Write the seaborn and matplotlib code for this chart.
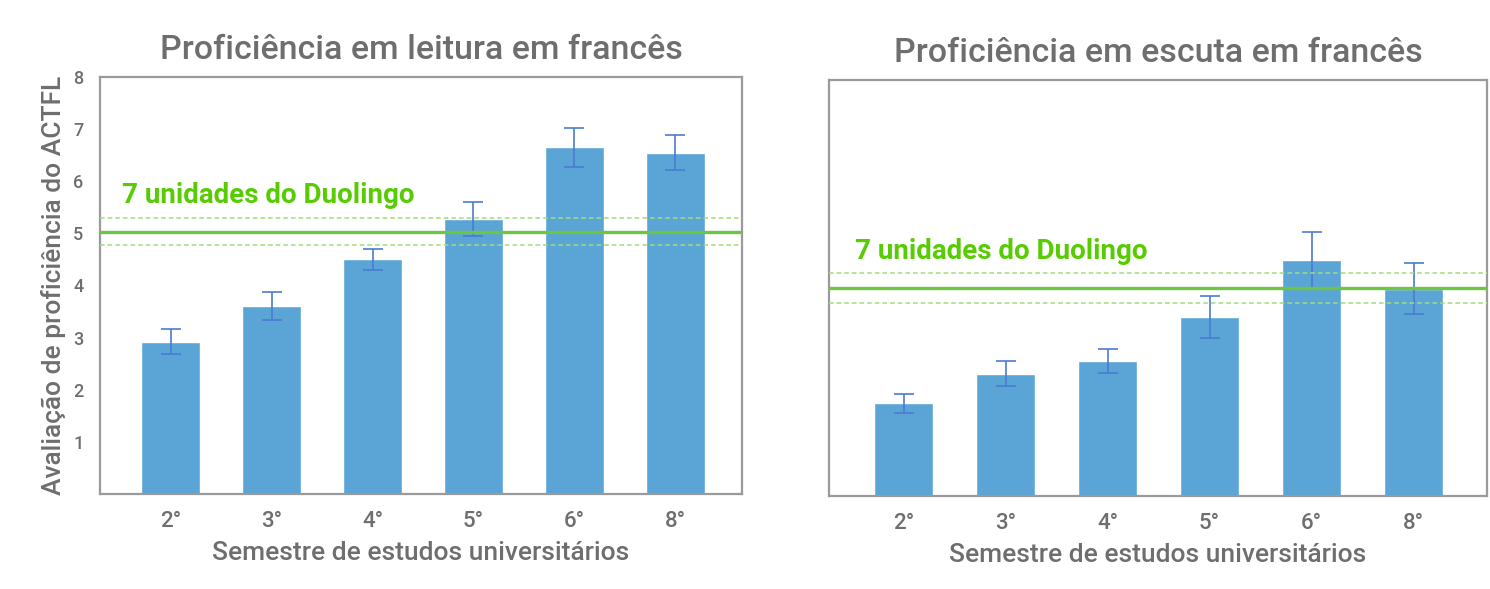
import matplotlib
matplotlib.use("Agg")
import matplotlib.pyplot as plt
import seaborn as sns
import pandas as pd

# Data
semesters = ["2°", "3°", "4°", "5°", "6°", "8°"]
reading_mean = [2.92, 3.60, 4.50, 5.28, 6.65, 6.55]
reading_err = [0.24, 0.27, 0.20, 0.33, 0.37, 0.33]
listening_mean = [1.78, 2.35, 2.60, 3.44, 4.54, 3.99]
listening_err = [0.18, 0.24, 0.23, 0.40, 0.54, 0.49]
duo_reading = 5.03
duo_reading_err = 0.26
duo_listening = 4.00
duo_listening_err = 0.28

titles = ["Proficiência em leitura em francês", "Proficiência em escuta em francês"]
xlabel = "Semestre de estudos universitários"
ylabel = "Avaliação de proficiência do ACTFL"
duo_label = "7 unidades do Duolingo"

sns.set_style("white")
plt.rcParams["font.family"] = ["Roboto", "DejaVu Sans"]

grey = "#6e6e6e"
bar_color = "#5aa5d6"
err_color = "#4a7bd0"
green = "#6cc644"
green_light = "#a3dd7c"
text_green = "#58cc02"

fig = plt.figure(figsize=(14.9, 5.89), dpi=100)
ax1 = fig.add_axes([0.0671, 0.1613, 0.4309, 0.7080])
ax2 = fig.add_axes([0.5564, 0.1579, 0.4416, 0.7063])

panels = [
    (ax1, reading_mean, reading_err, duo_reading, duo_reading_err, (-0.70, 5.66), 122),
    (ax2, listening_mean, listening_err, duo_listening, duo_listening_err, (-0.73, 5.72), 855),
]

for i, (ax, means, errs, duo, duo_err, xlim, text_px) in enumerate(panels):
    df = pd.DataFrame({"semestre": semesters, "valor": means})
    sns.barplot(data=df, x="semestre", y="valor", color=bar_color, saturation=1,
                width=0.58, ax=ax)
    ax.errorbar(range(len(semesters)), means, yerr=errs, fmt="none",
                ecolor=err_color, elinewidth=1.2, capsize=7, capthick=1.2, zorder=3)
    ax.axhline(duo, color=green, lw=2.4, zorder=4)
    ax.axhline(duo + duo_err, color=green_light, lw=1.1, ls=(0, (3, 2)), zorder=4)
    ax.axhline(duo - duo_err, color=green_light, lw=1.1, ls=(0, (3, 2)), zorder=4)

    ax.set_xlim(*xlim)
    ax.set_ylim(0, 8)
    ax.set_title(titles[i], fontsize=24.5, fontweight=500, color=grey, pad=13)
    ax.set_xlabel(xlabel, fontsize=19, fontweight=500, color=grey, labelpad=7)
    ax.tick_params(axis="x", labelsize=16, colors=grey, length=0, pad=12)
    for lab in ax.get_xticklabels():
        lab.set_fontweight(500)
    for s in ax.spines.values():
        s.set_color("#9a9a9a")
        s.set_linewidth(1.6)

    # green label, placed in figure pixels above the solid line
    xt = ax.transData.inverted().transform(
        fig.transFigure.transform((text_px / 1490, 0)))[0]
    ax.text(xt, duo + 0.55, duo_label, fontsize=20, fontweight="bold",
            color=text_green, va="baseline", ha="left", zorder=5)

ax1.set_yticks(range(1, 9))
ax1.tick_params(axis="y", labelsize=13, colors=grey, length=0, pad=12)
for lab in ax1.get_yticklabels():
    lab.set_fontweight(500)
ax1.set_ylabel(ylabel, fontsize=19, fontweight=500, color=grey, labelpad=5)
ax2.set_yticks([])
ax2.set_ylabel("")

fig.savefig("out.png", dpi=100)
